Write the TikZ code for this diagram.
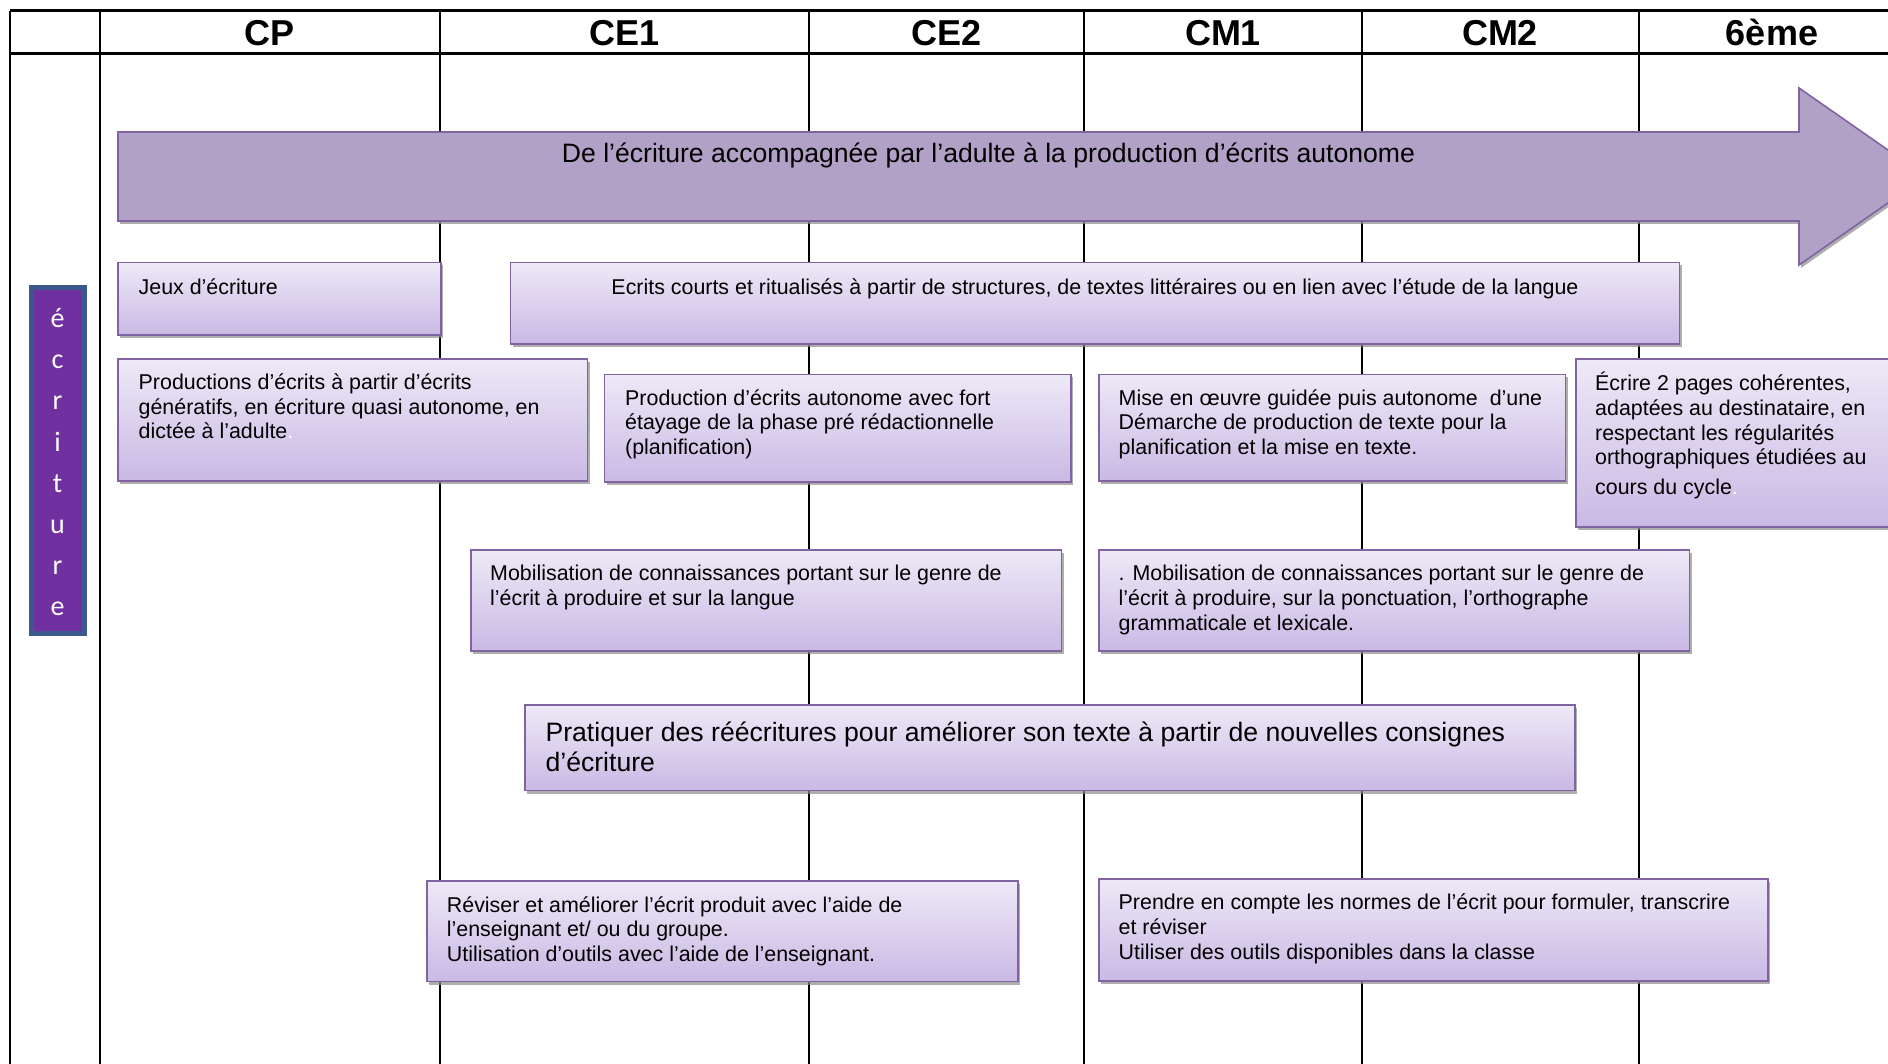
\documentclass[tikz,border=0pt]{standalone}
\usepackage{fontspec}
\setmainfont{Liberation Sans}
\newfontfamily\lettersfont{Carlito}
\usetikzlibrary{shadows}
\definecolor{arrowfill}{RGB}{177,161,199}
\definecolor{boxline}{RGB}{128,100,162}
\definecolor{boxtop}{RGB}{238,233,247}
\definecolor{boxbottom}{RGB}{201,185,228}
\definecolor{labelfill}{RGB}{112,48,160}
\definecolor{labelframe}{RGB}{59,89,138}

\begin{document}
\begin{tikzpicture}[x=1pt,y=-1pt,
    stagebox/.style={draw=boxline, line width=1.6pt, top color=boxtop, bottom color=boxbottom,
      drop shadow={shadow xshift=2pt, shadow yshift=-3pt, fill=black!45, opacity=0.7}},
    boxtext/.style={anchor=north west, inner sep=0pt, align=left, font=\fontsize{21.4}{24.7}\selectfont},
    colhead/.style={anchor=base, inner sep=0pt, font=\fontsize{36}{40}\selectfont\bfseries},
    letter/.style={anchor=base, inner sep=0pt, text=white, font=\lettersfont\fontsize{28}{30}\selectfont}]
        \useasboundingbox (0,0) rectangle (1888,1064);
        \clip (0,0) rectangle (1888,1064);

        % table
        \foreach \x in {9.8,100,439.7,809,1084,1362,1638.6}
            \draw[line width=2pt] (\x,11) -- (\x,1064);
        \draw[line width=3pt] (9.8,11) -- (1888,11);
        \draw[line width=3pt] (9.8,54) -- (1888,54);
        \node[colhead] (cp) at (270,45.5) {CP};
        \node[colhead] (ce1) at (624.4,45.5) {CE1};
        \node[colhead] (ce2) at (946.5,45.5) {CE2};
        \node[colhead] (cm1) at (1223,45.5) {CM1};
        \node[colhead] (cm2) at (1500,45.5) {CM2};
        \node[colhead] (sixieme) at (1772,45.5) {6ème};

        % side label
        \draw[labelframe, fill=labelfill, line width=5pt] (31,287.5) rectangle (84,633.5);
        \foreach \l [count=\i from 0] in {é,c,r,i,t,u,r,e}
            \node[letter] (letter\i) at (57.5,328+41*\i) {\l};

        % big arrow
        \draw[boxline, fill=arrowfill, line width=1.6pt,
              drop shadow={shadow xshift=2pt, shadow yshift=-3pt, fill=black!45, opacity=0.7}]
            (118,132) -- (1799,132) -- (1799,88) -- (1926,176.5) -- (1799,265)
            -- (1799,221) -- (118,221) -- cycle;
        \node[anchor=base, inner sep=0pt, font=\fontsize{26.6}{30}\selectfont] (arrowtext) at (988.5,162.6)
            {De l’écriture accompagnée par l’adulte à la production d’écrits autonome};

        % boxes
        \draw[stagebox] (118,262.5) rectangle (441,335);
        \node[boxtext] (jeux) at (138.5,277) {\strut Jeux d’écriture};

        \draw[stagebox] (510.5,262.5) rectangle (1679.5,344);
        \node[boxtext, anchor=north, align=center] (ecrits) at (1095,277)
            {\strut Ecrits courts et ritualisés à partir de structures, de textes littéraires ou en lien avec l’étude de la langue};

        \draw[stagebox] (118,359) rectangle (587.5,481);
        \node[boxtext] (productions) at (138.5,372)
            {\strut Productions d’écrits à partir d’écrits\\génératifs, en écriture quasi autonome, en\\dictée à l’adulte{\color{white}.}};

        \draw[stagebox] (604.5,374.5) rectangle (1071,482);
        \node[boxtext] (autonome) at (625,387.7)
            {\strut Production d’écrits autonome avec fort\\étayage de la phase pré rédactionnelle\\(planification)};

        \draw[stagebox] (1099,374.5) rectangle (1565.5,481);
        \node[boxtext] (demarche) at (1118.5,387.7)
            {\strut Mise en œuvre guidée puis autonome \ d’une\\Démarche de production de texte pour la\\planification et la mise en texte.};

        \draw[stagebox] (1576,359) rectangle (1910,527);
        \node[boxtext] (pages) at (1595,372)
            {\strut Écrire 2 pages cohérentes,\\adaptées au destinataire, en\\respectant les régularités\\orthographiques étudiées au\\[5pt]cours du cycle{\color{white}.}};

        \draw[stagebox] (470.7,550) rectangle (1061.5,651);
        \node[boxtext] (genre) at (490,563.5)
            {\strut Mobilisation de connaissances portant sur le genre de\\l’écrit à produire et sur la langue};

        \draw[stagebox] (1099,550) rectangle (1689.5,651);
        \node[boxtext] (ponctuation) at (1118.5,563.5)
            {\strut . Mobilisation de connaissances portant sur le genre de\\l’écrit à produire, sur la ponctuation, l’orthographe\\grammaticale et lexicale.};

        \draw[stagebox] (525,705) rectangle (1575,790.5);
        \node[boxtext, font=\fontsize{26.6}{30}\selectfont] (reecritures) at (545.4,720.6)
            {\strut Pratiquer des réécritures pour améliorer son texte à partir de nouvelles consignes\\d’écriture};

        \draw[stagebox] (427,881) rectangle (1018,981.5);
        \node[boxtext] (reviser) at (446.7,894.6)
            {\strut Réviser et améliorer l’écrit produit avec l’aide de\\l’enseignant et/ ou du groupe.\\Utilisation d’outils avec l’aide de l’enseignant.};

        \draw[stagebox] (1099,879) rectangle (1768,981);
        \node[boxtext] (normes) at (1118.5,892.2)
            {\strut Prendre en compte les normes de l’écrit pour formuler, transcrire\\et réviser\\Utiliser des outils disponibles dans la classe};
    \end{tikzpicture}
\end{document}
